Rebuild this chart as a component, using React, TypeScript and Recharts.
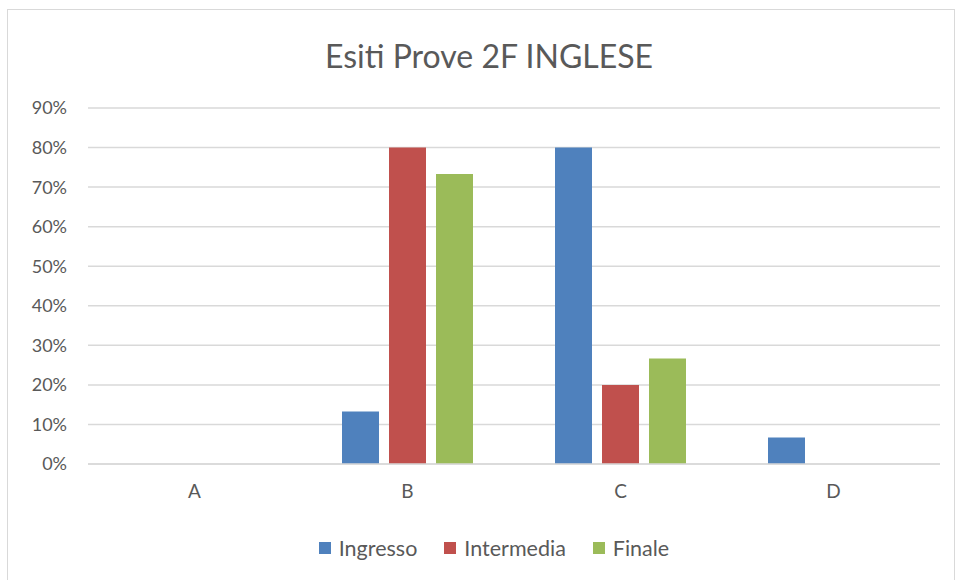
import React from "react";
import { BarChart, Bar, XAxis, YAxis, CartesianGrid } from "recharts";

const categories = ["A", "B", "C", "D"];
const ingresso = [0, 0.133, 0.8, 0.067];
const intermedia = [0, 0.8, 0.2, 0];
const finale = [0, 0.733, 0.267, 0];
const yTicks = [0, 0.1, 0.2, 0.3, 0.4, 0.5, 0.6, 0.7, 0.8, 0.9];

const seriesNames = ["Ingresso", "Intermedia", "Finale"];
const seriesColors = ["#4F81BD", "#C0504D", "#9BBB59"];

const data = categories.map((c, i) => ({
  cat: c,
  Ingresso: ingresso[i],
  Intermedia: intermedia[i],
  Finale: finale[i],
}));

const FONT = "Lato, 'Open Sans', sans-serif";
const TEXT = "#595959";

export default function App() {
  return (
    <div
      style={{
        position: "absolute",
        left: 7,
        top: 9,
        width: 946,
        height: 570,
        border: "1px solid #d9d9d9",
        borderBottom: "none",
        background: "#fff",
      }}
    >
      <div
        style={{
          position: "absolute",
          top: 27,
          left: 8,
          width: 946,
          textAlign: "center",
          fontFamily: FONT,
          fontSize: 32,
          lineHeight: "38px",
          color: TEXT,
        }}
      >
        Esiti Prove 2F INGLESE
      </div>
      <BarChart
        width={946}
        height={570}
        data={data}
        margin={{ top: 98, right: 14, bottom: 86, left: 0 }}
        barSize={37}
        barGap={10}
      >
        <CartesianGrid vertical={false} stroke="#d9d9d9" strokeWidth={1.5} />
        <XAxis
          dataKey="cat"
          height={30}
          axisLine={{ stroke: "#d9d9d9", strokeWidth: 1.5 }}
          tickLine={false}
          tickSize={0}
          tickMargin={21}
          tick={{ fill: TEXT, fontSize: 19, fontFamily: FONT }}
        />
        <YAxis
          width={80}
          domain={[0, 0.9]}
          ticks={yTicks}
          interval={0}
          axisLine={false}
          tickLine={false}
          tickSize={0}
          tickMargin={21}
          tickFormatter={(v: number) => `${Math.round(v * 100)}%`}
          tick={{ fill: TEXT, fontSize: 18, fontFamily: FONT }}
        />
        {seriesNames.map((n, i) => (
          <Bar key={n} dataKey={n} fill={seriesColors[i]} isAnimationActive={false} />
        ))}
      </BarChart>
      <div
        style={{
          position: "absolute",
          top: 524,
          left: 0,
          width: 946,
          display: "flex",
          justifyContent: "center",
          alignItems: "center",
          fontFamily: FONT,
          fontSize: 21.5,
          lineHeight: "28px",
          color: TEXT,
          paddingLeft: 26,
          boxSizing: "border-box",
        }}
      >
        {seriesNames.map((n, i) => (
          <div key={n} style={{ display: "flex", alignItems: "center", marginRight: i < 2 ? 27 : 0 }}>
            <span
              style={{
                display: "inline-block",
                width: 12,
                height: 12,
                background: seriesColors[i],
                marginRight: 8,
              }}
            />
            <span>{n}</span>
          </div>
        ))}
      </div>
    </div>
  );
}
